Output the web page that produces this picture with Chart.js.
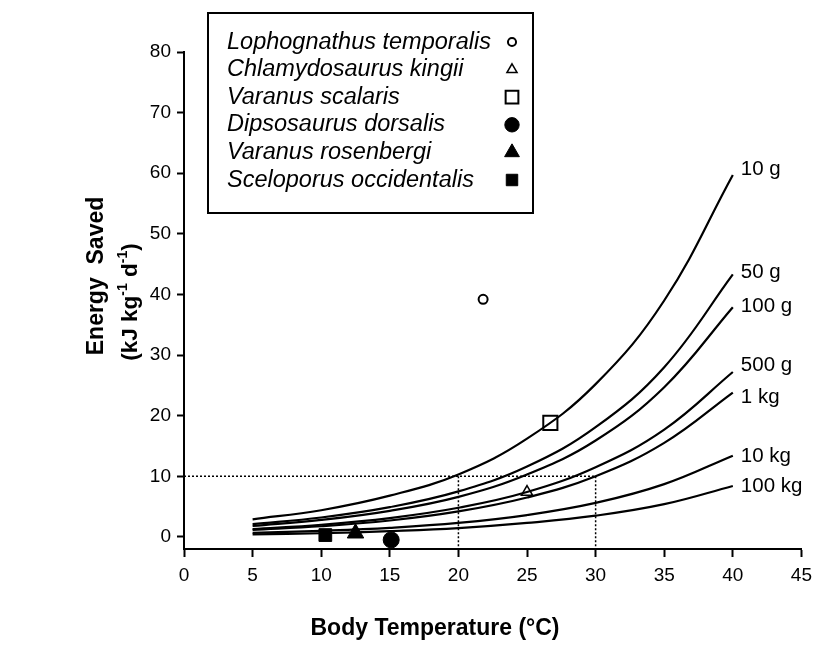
<!DOCTYPE html>
<html>
<head>
<meta charset="utf-8">
<script src="https://cdn.jsdelivr.net/npm/chart.js@4.4.1/dist/chart.umd.min.js"></script>
<style>
  html, body { margin: 0; padding: 0; background: #fff; }
</style>
</head>
<body>
<canvas id="chart" width="819" height="645"></canvas>
<script>
// body temperature (°C) at which the curves were read
const temps = [5, 10, 15, 20, 25, 30, 35, 40];

// energy saved (kJ kg-1 d-1) for each body mass
const massLabels = ['10 g', '50 g', '100 g', '500 g', '1 kg', '10 kg', '100 kg'];
const saved10g  = [2.9, 4.4, 6.8, 10.3, 16.2, 25.2, 39.0, 59.7];
const saved50g  = [2.1, 3.2, 4.9, 7.5, 11.6, 18.1, 28.0, 43.3];
const saved100g = [1.8, 2.8, 4.3, 6.6, 10.3, 15.9, 24.7, 37.9];
const saved500g = [1.3, 2.0, 3.1, 4.8, 7.4, 11.5, 17.7, 27.2];
const saved1kg  = [1.15, 1.75, 2.7, 4.2, 6.5, 10.0, 15.5, 23.8];
const saved10kg = [0.65, 1.0, 1.5, 2.3, 3.6, 5.6, 8.7, 13.4];
const saved100kg = [0.4, 0.6, 0.95, 1.45, 2.3, 3.5, 5.4, 8.4];
const massSeries = [saved10g, saved50g, saved100g, saved500g, saved1kg, saved10kg, saved100kg];

// measured species
const species = ['Lophognathus temporalis', 'Chlamydosaurus kingii', 'Varanus scalaris',
  'Dipsosaurus dorsalis', 'Varanus rosenbergi', 'Sceloporus occidentalis'];
const speciesTemp = [21.8, 25.0, 26.7, 15.1, 12.5, 10.3];
const speciesSaved = [39.2, 7.4, 18.8, -0.5, 0.6, 0.3];

// dotted guide at 10 kJ kg-1 d-1
const guideTemps = [0, 20, 30];
const guideSaved = 10;

const xTicks = [0, 5, 10, 15, 20, 25, 30, 35, 40, 45];
const yTicks = [0, 10, 20, 30, 40, 50, 60, 70, 80];

const markerStyle = [
  { pointStyle: 'circle',   radius: 4.5, fill: false, border: 2 },
  { pointStyle: 'triangle', radius: 6.5, fill: false, border: 1.5 },
  { pointStyle: 'rect',     radius: 10,  fill: false, border: 2 },
  { pointStyle: 'circle',   radius: 8,   fill: true,  border: 1 },
  { pointStyle: 'triangle', radius: 9.5, fill: true,  border: 1 },
  { pointStyle: 'rect',     radius: 9,   fill: true,  border: 1 }
];

const datasets = [];

massSeries.forEach((vals, i) => {
  datasets.push({
    label: massLabels[i],
    data: temps.map((t, j) => ({ x: t, y: vals[j] })),
    showLine: true,
    borderColor: '#000',
    borderWidth: 2.2,
    pointRadius: 0,
    tension: 0.4,
    isCurve: true
  });
});

// horizontal guide and the two drop lines
const dotted = { showLine: true, borderColor: '#000', borderWidth: 1.5, borderDash: [2, 2], pointRadius: 0 };
datasets.push(Object.assign({ data: [{ x: guideTemps[0], y: guideSaved }, { x: guideTemps[2], y: guideSaved }] }, dotted));
datasets.push(Object.assign({ data: [{ x: guideTemps[1], y: guideSaved }, { x: guideTemps[1], y: -2 }] }, dotted));
datasets.push(Object.assign({ data: [{ x: guideTemps[2], y: guideSaved }, { x: guideTemps[2], y: -2 }] }, dotted));

species.forEach((name, i) => {
  const m = markerStyle[i];
  datasets.push({
    label: name,
    data: [{ x: speciesTemp[i], y: speciesSaved[i] }],
    showLine: false,
    pointStyle: m.pointStyle,
    pointRadius: m.radius,
    pointBorderWidth: m.border,
    pointBorderColor: '#000',
    pointBackgroundColor: m.fill ? '#000' : 'rgba(0,0,0,0)'
  });
});

const FONT = '"Liberation Sans", Arial, Helvetica, sans-serif';

// labels at the end of each mass curve
const curveLabels = {
  id: 'curveLabels',
  afterDatasetsDraw(chart) {
    const ctx = chart.ctx;
    const nudge = [-6, -2, -1, -7, 5, 1, 0];
    ctx.save();
    ctx.font = '20.5px ' + FONT;
    ctx.fillStyle = '#000';
    ctx.textBaseline = 'middle';
    chart.data.datasets.forEach((ds, i) => {
      if (!ds.isCurve) return;
      const pts = chart.getDatasetMeta(i).data;
      const last = pts[pts.length - 1];
      ctx.fillText(ds.label, last.x + 8, last.y + nudge[i]);
    });
    ctx.restore();
  }
};

// boxed species key with symbols on the right
const speciesKey = {
  id: 'speciesKey',
  afterDraw(chart) {
    const ctx = chart.ctx;
    const left = 208, top = 13, w = 325, h = 200;
    ctx.save();
    ctx.fillStyle = '#fff';
    ctx.fillRect(left, top, w, h);
    ctx.strokeStyle = '#000';
    ctx.lineWidth = 2;
    ctx.strokeRect(left, top, w, h);
    ctx.font = 'italic 23.5px ' + FONT;
    ctx.textBaseline = 'middle';
    species.forEach((name, i) => {
      const y = top + 29 + i * 27.6;
      ctx.fillStyle = '#000';
      ctx.fillText(name, left + 19, y);
      const m = markerStyle[i];
      ctx.fillStyle = m.fill ? '#000' : 'rgba(0,0,0,0)';
      ctx.strokeStyle = '#000';
      ctx.lineWidth = m.border;
      Chart.helpers.drawPoint(ctx, {
        pointStyle: m.pointStyle,
        radius: m.radius * 0.9,
        rotation: 0,
        borderWidth: m.border
      }, left + 304, y);
    });
    ctx.restore();
  }
};

// axis titles (y title has superscripts)
const axisTitles = {
  id: 'axisTitles',
  afterDraw(chart) {
    const ctx = chart.ctx;
    ctx.save();
    ctx.fillStyle = '#000';
    ctx.font = 'bold 23px ' + FONT;
    ctx.textAlign = 'center';
    ctx.textBaseline = 'middle';
    ctx.fillText('Body Temperature (°C)', 435, 629);

    ctx.translate(97, 276);
    ctx.rotate(-Math.PI / 2);
    ctx.fillText('Energy  Saved', 0, 0);
    ctx.restore();

    // second line: (kJ kg-1 d-1)
    const parts = [['(kJ kg', false], ['-1', true], [' d', false], ['-1', true], [')', false]];
    ctx.save();
    ctx.fillStyle = '#000';
    ctx.textBaseline = 'middle';
    ctx.translate(131, 302);
    ctx.rotate(-Math.PI / 2);
    const fontFor = sup => (sup ? 'bold 14px ' : 'bold 22.5px ') + FONT;
    let total = 0;
    parts.forEach(([t, sup]) => { ctx.font = fontFor(sup); total += ctx.measureText(t).width; });
    let x = -total / 2;
    parts.forEach(([t, sup]) => {
      ctx.font = fontFor(sup);
      ctx.fillText(t, x, sup ? -8 : 0);
      x += ctx.measureText(t).width;
    });
    ctx.restore();
  }
};

new Chart(document.getElementById('chart'), {
  type: 'scatter',
  data: { datasets },
  options: {
    responsive: false,
    animation: false,
    devicePixelRatio: 1,
    layout: { autoPadding: false, padding: { top: 52, right: 14, left: 0, bottom: 0 } },
    plugins: { legend: { display: false }, tooltip: { enabled: false } },
    scales: {
      x: {
        type: 'linear',
        min: 0,
        max: 45,
        afterBuildTicks: s => { s.ticks = xTicks.map(v => ({ value: v })); },
        afterFit: s => { s.height = 96; },
        grid: { display: true, drawOnChartArea: false, drawTicks: true, tickLength: 8, tickWidth: 2, tickColor: '#000' },
        border: { display: true, color: '#000', width: 2 },
        ticks: { color: '#000', font: { family: FONT, size: 19 }, padding: 7, maxRotation: 0 }
      },
      y: {
        type: 'linear',
        min: -2,
        max: 80,
        afterBuildTicks: s => { s.ticks = yTicks.map(v => ({ value: v })); },
        afterFit: s => { s.width = 184; },
        grid: { display: true, drawOnChartArea: false, drawTicks: true, tickLength: 7, tickWidth: 2, tickColor: '#000' },
        border: { display: true, color: '#000', width: 2 },
        ticks: { color: '#000', font: { family: FONT, size: 19 }, padding: 6 }
      }
    }
  },
  plugins: [curveLabels, speciesKey, axisTitles]
});
</script>
</body>
</html>
